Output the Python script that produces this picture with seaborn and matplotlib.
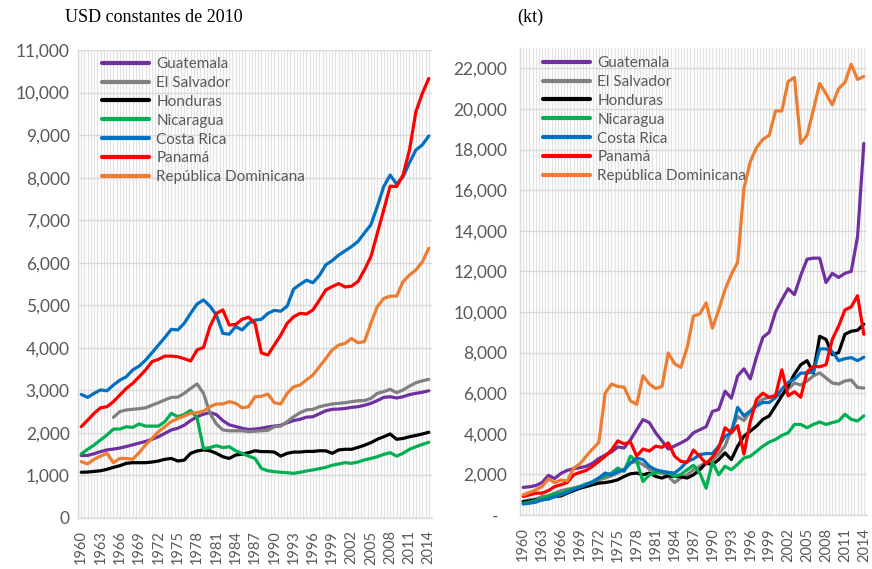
import numpy as np
import pandas as pd
import matplotlib
matplotlib.use("Agg")
import matplotlib.pyplot as plt
from matplotlib.lines import Line2D
from matplotlib.ticker import FuncFormatter
import seaborn as sns

years = list(range(1960, 2015))
countries = ["Guatemala", "El Salvador", "Honduras", "Nicaragua",
             "Costa Rica", "Panamá", "República Dominicana"]
colors = ["#7030A0", "#808080", "#000000", "#00B050",
          "#0070C0", "#FF0000", "#ED7D31"]

# PIB per cápita (USD constantes de 2010)
gdp_guatemala = [1470, 1470, 1510, 1560, 1600, 1620, 1645, 1680, 1720, 1760,
                 1800, 1850, 1910, 1990, 2070, 2110, 2180, 2290, 2380, 2440,
                 2480, 2430, 2290, 2190, 2150, 2110, 2080, 2090, 2110, 2140,
                 2160, 2180, 2240, 2290, 2320, 2370, 2380, 2450, 2520, 2555,
                 2560, 2575, 2600, 2615, 2650, 2695, 2760, 2835, 2850, 2820,
                 2850, 2900, 2930, 2955, 2990]
gdp_el_salvador = [np.nan, np.nan, np.nan, np.nan, np.nan, 2365, 2500, 2540, 2555, 2570,
                   2590, 2650, 2710, 2775, 2835, 2840, 2930, 3045, 3150, 2930,
                   2460, 2210, 2070, 2050, 2050, 2050, 2030, 2040, 2050, 2060,
                   2145, 2160, 2265, 2380, 2475, 2540, 2555, 2615, 2650, 2680,
                   2695, 2710, 2735, 2755, 2760, 2810, 2930, 2970, 3025, 2945,
                   3010, 3100, 3180, 3225, 3260]
gdp_honduras = [1075, 1080, 1095, 1110, 1145, 1190, 1230, 1285, 1300, 1300,
                1300, 1315, 1340, 1380, 1400, 1340, 1360, 1520, 1575, 1600,
                1580, 1520, 1440, 1400, 1480, 1500, 1535, 1580, 1560, 1560,
                1550, 1455, 1520, 1550, 1550, 1565, 1565, 1580, 1580, 1520,
                1600, 1615, 1615, 1660, 1710, 1770, 1850, 1910, 1975, 1850,
                1870, 1910, 1940, 1975, 2015]
gdp_nicaragua = [1505, 1615, 1715, 1835, 1950, 2090, 2090, 2145, 2130, 2210,
                 2160, 2160, 2160, 2265, 2460, 2380, 2435, 2530, 2350, 1630,
                 1655, 1700, 1655, 1675, 1580, 1520, 1455, 1400, 1165, 1110,
                 1090, 1075, 1065, 1050, 1075, 1105, 1130, 1160, 1190, 1240,
                 1270, 1300, 1285, 1315, 1365, 1400, 1440, 1495, 1535, 1455,
                 1520, 1615, 1675, 1730, 1780]
gdp_costa_rica = [2905, 2835, 2930, 3010, 2990, 3125, 3240, 3320, 3480, 3570,
                  3710, 3885, 4065, 4245, 4435, 4420, 4575, 4810, 5030, 5125,
                  4980, 4770, 4340, 4320, 4500, 4420, 4575, 4650, 4670, 4810,
                  4880, 4860, 4980, 5380, 5490, 5590, 5530, 5700, 5950, 6050,
                  6180, 6280, 6380, 6500, 6700, 6890, 7320, 7790, 8060, 7850,
                  8020, 8350, 8650, 8770, 8980]
gdp_panama = [2145, 2300, 2460, 2590, 2615, 2735, 2890, 3045, 3165, 3320,
              3480, 3675, 3730, 3805, 3805, 3790, 3745, 3690, 3950, 4010,
              4500, 4810, 4890, 4535, 4550, 4670, 4720, 4575, 3880, 3830,
              4065, 4300, 4575, 4730, 4810, 4795, 4890, 5120, 5360, 5440,
              5510, 5430, 5450, 5560, 5830, 6140, 6690, 7240, 7800, 7790,
              8060, 8650, 9550, 9980, 10330]
gdp_rep_dominicana = [1325, 1270, 1380, 1455, 1520, 1300, 1400, 1400, 1380, 1535,
                      1715, 1870, 2030, 2145, 2265, 2340, 2395, 2460, 2475, 2515,
                      2615, 2680, 2680, 2735, 2695, 2590, 2615, 2850, 2860, 2915,
                      2710, 2680, 2930, 3085, 3125, 3245, 3360, 3555, 3750, 3950,
                      4065, 4105, 4220, 4120, 4145, 4575, 4965, 5160, 5215, 5215,
                      5555, 5710, 5830, 6020, 6340]

# Emisiones de CO2 (kt)
co2_guatemala = [1360, 1390, 1450, 1600, 1950, 1800, 2050, 2200, 2280, 2330,
                 2400, 2550, 2780, 2950, 3100, 3350, 3300, 3700, 4200, 4700,
                 4550, 4050, 3650, 3250, 3400, 3550, 3720, 4050, 4200, 4350,
                 5100, 5200, 6100, 5750, 6850, 7200, 6700, 7800, 8750, 9000,
                 10000, 10600, 11150, 10850, 11800, 12600, 12650, 12650, 11450, 11900,
                 11700, 11900, 12000, 13700, 18300]
co2_el_salvador = [660, 745, 780, 910, 940, 1075, 1200, 1270, 1320, 1400,
                   1490, 1600, 1735, 1820, 1935, 2065, 2260, 2560, 2640, 2480,
                   2260, 2100, 2065, 1900, 1600, 1820, 1980, 2230, 2400, 2600,
                   2700, 3000, 3400, 4200, 4850, 4650, 5100, 5500, 5700, 5800,
                   5900, 5900, 6200, 6500, 6400, 6600, 6850, 7000, 6750, 6500,
                   6450, 6600, 6650, 6280, 6250]
co2_honduras = [660, 690, 745, 745, 825, 910, 940, 1075, 1200, 1320,
                1400, 1490, 1570, 1600, 1650, 1735, 1900, 2030, 2065, 1980,
                2065, 1900, 1820, 1935, 1900, 1880, 1820, 1980, 2230, 2560,
                2480, 2730, 3060, 2730, 3390, 3880, 4130, 4380, 4710, 4880,
                5370, 5870, 6360, 6940, 7400, 7600, 7000, 8800, 8650, 7900,
                8000, 8900, 9050, 9100, 9400]
co2_nicaragua = [580, 630, 710, 825, 940, 1040, 1075, 1200, 1320, 1400,
                 1540, 1600, 1820, 1935, 2065, 2310, 2150, 2900, 2640, 1650,
                 1980, 2070, 2150, 2065, 1900, 2000, 2230, 2450, 2065, 1320,
                 2600, 1980, 2400, 2230, 2500, 2810, 2890, 3140, 3390, 3590,
                 3720, 3920, 4050, 4460, 4460, 4300, 4460, 4580, 4460, 4550,
                 4630, 4960, 4710, 4630, 4880]
co2_costa_rica = [545, 580, 630, 745, 780, 910, 990, 1110, 1270, 1370,
                  1490, 1650, 1820, 2065, 1980, 2150, 2200, 2560, 2800, 2730,
                  2400, 2230, 2150, 2100, 2065, 2310, 2640, 2760, 2975, 3025,
                  3025, 3390, 3880, 4050, 5300, 4880, 5120, 5370, 5540, 5540,
                  5785, 6200, 6530, 6690, 6990, 6990, 7050, 8180, 8180, 8050,
                  7600, 7700, 7750, 7600, 7770]
co2_panama = [910, 990, 1075, 1075, 1200, 1400, 1490, 1600, 1980, 2100,
              2200, 2400, 2640, 2900, 3200, 3650, 3500, 3600, 2900, 3250,
              3150, 3390, 3330, 3550, 2900, 2640, 2600, 3200, 2890, 2530,
              2850, 3300, 4300, 4050, 4400, 3000, 4600, 5700, 6000, 5790,
              5870, 7150, 5870, 6070, 5800, 7050, 7320, 7300, 7400, 8650,
              9300, 10100, 10250, 10800, 8900]
co2_rep_dominicana = [990, 1110, 1240, 1400, 1780, 1600, 1720, 1680, 2310, 2520,
                      2900, 3250, 3580, 6000, 6450, 6330, 6300, 5620, 5450, 6860,
                      6450, 6230, 6330, 7980, 7450, 7270, 8260, 9800, 9900, 10450,
                      9200, 10100, 11100, 11850, 12450, 16100, 17400, 18100, 18500, 18700,
                      19900, 19900, 21350, 21550, 18300, 18700, 19950, 21250, 20750, 20200,
                      21000, 21300, 22200, 21450, 21600]

gdp_series = [gdp_guatemala, gdp_el_salvador, gdp_honduras, gdp_nicaragua,
              gdp_costa_rica, gdp_panama, gdp_rep_dominicana]
co2_series = [co2_guatemala, co2_el_salvador, co2_honduras, co2_nicaragua,
              co2_costa_rica, co2_panama, co2_rep_dominicana]

year_ticks = list(range(1960, 2015, 3))


def long_frame(series):
    rows = []
    for name, vals in zip(countries, series):
        for y, v in zip(years, vals):
            rows.append({"year": y, "country": name, "value": v})
    return pd.DataFrame(rows)


sns.set_theme(style="white")
plt.rcParams["font.family"] = ["Lato", "DejaVu Sans"]

TXT = "#595959"
HGRID = "#D9D9D9"
VGRID = "#E3E3E3"
palette = dict(zip(countries, colors))

fig = plt.figure(figsize=(8.72, 5.69), dpi=100)
ax1 = fig.add_axes([78 / 872, 51 / 569, 354 / 872, 468 / 569])
ax2 = fig.add_axes([520 / 872, 54 / 569, 347 / 872, 467 / 569])


def style_axis(ax, series, ymax, ystep, ylabel_fmt, ypad, legend_anchor):
    df = long_frame(series)
    sns.lineplot(data=df, x="year", y="value", hue="country",
                 hue_order=countries, palette=palette, linewidth=2.3,
                 legend=False, ax=ax, zorder=3)
    ax.set_xlim(1959.5, 2014.5)
    ax.set_ylim(0, ymax)
    ax.set_xlabel("")
    ax.set_ylabel("")
    ax.set_xticks(year_ticks)
    ax.set_xticks(np.arange(1959.5, 2014.6, 0.5), minor=True)
    ax.set_yticks(np.arange(0, ymax + 1, ystep))
    ax.yaxis.set_major_formatter(FuncFormatter(ylabel_fmt))
    ax.tick_params(axis="x", which="both", length=0, pad=9, labelsize=10.5,
                   labelcolor=TXT, labelrotation=90)
    ax.tick_params(axis="y", length=0, pad=ypad, labelsize=12.5,
                   labelcolor=TXT)
    ax.grid(False)
    ax.grid(True, axis="x", which="both", color=VGRID, linewidth=0.9, zorder=0)
    ax.grid(True, axis="y", which="major", color=HGRID, linewidth=1.0, zorder=0)
    ax.set_axisbelow(True)
    for side in ("top", "right"):
        ax.spines[side].set_visible(False)
    for side in ("left", "bottom"):
        ax.spines[side].set_color(HGRID)
        ax.spines[side].set_linewidth(1.0)
    handles = [Line2D([], [], color=c, linewidth=3.0) for c in colors]
    leg = ax.legend(handles, countries, loc="upper left",
                    bbox_to_anchor=legend_anchor, frameon=False,
                    fontsize=11, handlelength=3.1, handletextpad=0.45,
                    labelspacing=0.32, borderpad=0, borderaxespad=0)
    for t in leg.get_texts():
        t.set_color(TXT)


style_axis(ax1, gdp_series, 11000, 1000,
           lambda v, p: f"{int(v):,}", 6, (24 / 354, 1 - 7 / 468))
style_axis(ax2, co2_series, 23000, 2000,
           lambda v, p: "-  " if v == 0 else f"{int(v):,}", 9,
           (23 / 347, 1 - 8 / 467))

fig.text(65 / 872, 1 - 17 / 569, "USD constantes de 2010",
         family="Liberation Serif", fontsize=13, color="#000000", va="center")
fig.text(517 / 872, 1 - 17 / 569, "(kt)",
         family="Liberation Serif", fontsize=13, color="#000000", va="center")

fig.savefig("out.png", dpi=100, facecolor="white")
